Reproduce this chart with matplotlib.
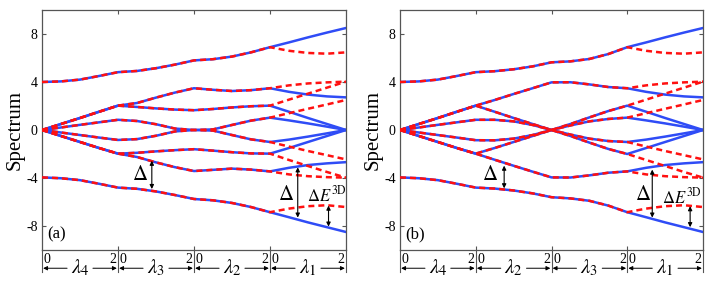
import numpy as np
import matplotlib
matplotlib.use('Agg')
import matplotlib.pyplot as plt
from matplotlib.lines import Line2D

plt.rcParams['font.family'] = ['Liberation Serif', 'DejaVu Serif']
plt.rcParams['mathtext.fontset'] = 'stix'
plt.rcParams['axes.unicode_minus'] = False

# -------- data --------
# sample positions: 4 segments of lambda in [0, 2], every 0.5
x_grid = np.linspace(0, 8, 17)

# panel (a): lambda4, lambda3, lambda2, lambda1  (blue, full model)
a_levels = [
    [4.0, 4.05, 4.2, 4.5, 4.82, 4.92, 5.15, 5.45, 5.8, 5.9, 6.12, 6.47, 6.9, 7.3, 7.72, 8.12, 8.5],
    [0, 0.5, 1.0, 1.52, 2.03, 2.25, 2.7, 3.12, 3.48, 3.35, 3.25, 3.32, 3.48, 3.18, 2.95, 2.8, 2.72],
    [0, 0.5, 1.0, 1.52, 2.03, 1.92, 1.8, 1.7, 1.65, 1.75, 1.88, 1.98, 2.03, 1.52, 1.0, 0.5, 0],
    [0, 0.21, 0.43, 0.64, 0.85, 0.75, 0.48, 0.12, 0, 0.05, 0.42, 0.78, 1.03, 0.8, 0.55, 0.28, 0],
    [0, -0.21, -0.42, -0.63, -0.83, -0.76, -0.48, -0.12, 0, -0.05, -0.42, -0.78, -1.0, -0.8, -0.55, -0.28, 0],
    [0, -0.5, -1.0, -1.5, -1.97, -1.9, -1.78, -1.68, -1.6, -1.72, -1.85, -1.95, -1.97, -1.5, -1.0, -0.5, 0],
    [0, -0.5, -1.0, -1.5, -1.97, -2.25, -2.7, -3.1, -3.42, -3.32, -3.22, -3.3, -3.45, -3.15, -2.92, -2.78, -2.68],
    [-3.95, -4.02, -4.18, -4.48, -4.8, -4.9, -5.12, -5.42, -5.75, -5.86, -6.08, -6.42, -6.85, -7.27, -7.7, -8.1, -8.5],
]

# panel (b): lambda4, lambda2, lambda3, lambda1  (blue, full model)
b_levels = [
    [4.0, 4.05, 4.2, 4.5, 4.82, 4.9, 5.06, 5.3, 5.64, 5.72, 5.92, 6.33, 6.9, 7.3, 7.72, 8.12, 8.5],
    [0, 0.5, 1.0, 1.52, 2.03, 2.5, 3.0, 3.48, 3.97, 3.98, 3.8, 3.58, 3.48, 3.18, 2.95, 2.8, 2.72],
    [0, 0.5, 1.0, 1.52, 2.03, 1.52, 1.0, 0.5, 0, 0.5, 1.05, 1.58, 2.03, 1.52, 1.0, 0.5, 0],
    [0, 0.21, 0.43, 0.64, 0.85, 0.85, 0.72, 0.42, 0, 0.38, 0.72, 0.92, 1.03, 0.8, 0.55, 0.28, 0],
    [0, -0.21, -0.42, -0.63, -0.85, -0.86, -0.72, -0.42, 0, -0.38, -0.72, -0.92, -1.0, -0.8, -0.55, -0.28, 0],
    [0, -0.5, -1.0, -1.5, -1.97, -1.5, -1.0, -0.5, 0, -0.5, -1.05, -1.58, -2.0, -1.5, -1.0, -0.5, 0],
    [0, -0.5, -1.0, -1.5, -1.97, -2.48, -2.98, -3.47, -3.95, -3.96, -3.78, -3.56, -3.45, -3.15, -2.92, -2.78, -2.68],
    [-3.95, -4.02, -4.18, -4.48, -4.8, -4.88, -5.04, -5.28, -5.6, -5.7, -5.9, -6.3, -6.85, -7.27, -7.7, -8.1, -8.5],
]

# red dashed (3D approximation) on the lambda1 segment, x = 6.5, 7, 7.5, 8
red_lambda1 = [
    [6.6, 6.42, 6.36, 6.47],
    [3.72, 3.88, 3.97, 4.03],
    [2.53, 3.03, 3.53, 4.03],
    [1.4, 1.77, 2.13, 2.5],
    [-1.38, -1.75, -2.1, -2.45],
    [-2.5, -3.0, -3.5, -3.97],
    [-3.7, -3.85, -3.93, -3.97],
    [-6.55, -6.35, -6.27, -6.42],
]

a_segments = [r'$\lambda_4$', r'$\lambda_3$', r'$\lambda_2$', r'$\lambda_1$']
b_segments = [r'$\lambda_4$', r'$\lambda_2$', r'$\lambda_3$', r'$\lambda_1$']

BLUE = '#2f4cf6'
RED = '#ff1010'
FRAME = '#555555'


def draw_panel(ax, levels, segments, tag, arrows):
    # blue solid curves, red dashed copies on top
    for lev in levels:
        ax.plot(x_grid, lev, color=BLUE, lw=1.8, solid_capstyle='round', zorder=2)
    for lev, red in zip(levels, red_lambda1):
        ry = list(lev[:13]) + red
        ax.plot(x_grid, ry, color=RED, lw=1.8, ls=(0, (2.4, 1.6)), zorder=3)

    ax.set_xlim(0, 8)
    ax.set_ylim(-10, 10)
    ax.set_yticks([-8, -4, 0, 4, 8])
    ax.set_xticks([2, 4, 6])
    ax.set_xticklabels([])
    ax.tick_params(direction='in', length=3, width=0.8, color=FRAME,
                   top=True, right=True, labelsize=10, pad=3)
    for sp in ax.spines.values():
        sp.set_color(FRAME)
        sp.set_linewidth(0.9)
    ax.set_ylabel('Spectrum', fontsize=15)
    ax.yaxis.set_label_coords(-0.058, 0.5)

    ax.text(0.018, 0.03, tag, transform=ax.transAxes, fontsize=12,
            ha='left', va='bottom')

    # segment labels below the axis
    tr = ax.get_xaxis_transform()
    for b in [0, 2, 4, 6, 8]:
        ax.add_line(Line2D([b, b], [0, -0.092], transform=tr, color=FRAME,
                           lw=0.8, clip_on=False))
    for i, lab in enumerate(segments):
        s = 2 * i
        ax.text(s + 0.04, -0.012, '0', transform=tr, fontsize=10,
                ha='left', va='top')
        ax.text(s + 1.97, -0.012, '2', transform=tr, fontsize=10,
                ha='right', va='top')
        ax.text(s + 1.0, -0.075, lab, transform=tr, fontsize=15,
                ha='center', va='center')
        for tail, head in [(s + 0.66, s + 0.03), (s + 1.34, s + 1.97)]:
            ax.annotate('', xy=(head, -0.076), xytext=(tail, -0.076),
                        xycoords=tr, textcoords=tr,
                        arrowprops=dict(arrowstyle='-|>', color='black', lw=0.7,
                                        mutation_scale=6, shrinkA=0, shrinkB=0),
                        annotation_clip=False)

    # gap arrows
    for (xa, y0, y1, lab, lx, ly, fs) in arrows:
        ax.annotate('', xy=(xa, y1), xytext=(xa, y0),
                    arrowprops=dict(arrowstyle='<|-|>', color='black', lw=0.8,
                                    mutation_scale=6, shrinkA=0, shrinkB=0),
                    zorder=4)
        ax.text(lx, ly, lab, fontsize=fs, ha='center', va='center', zorder=4)


fig = plt.figure(figsize=(7.2, 2.95), dpi=100)
ax_a = fig.add_axes([42 / 720, 45 / 295, 304 / 720, 240 / 295])
ax_b = fig.add_axes([400 / 720, 45 / 295, 303 / 720, 240 / 295])

a_arrows = [
    (2.89, -2.56, -4.92, r'$\Delta$', 2.58, -3.8, 15),
    (6.73, -3.11, -7.3, r'$\Delta$', 6.42, -5.5, 15),
    (7.54, -6.3, -8.05, r'$\Delta E^{\rm 3D}$', 7.5, -5.45, 12),
]
b_arrows = [
    (2.75, -2.97, -4.86, r'$\Delta$', 2.39, -3.8, 15),
    (6.66, -3.3, -7.3, r'$\Delta$', 6.42, -5.5, 15),
    (7.66, -6.35, -8.1, r'$\Delta E^{\rm 3D}$', 7.44, -5.6, 12),
]

draw_panel(ax_a, a_levels, a_segments, '(a)', a_arrows)
draw_panel(ax_b, b_levels, b_segments, '(b)', b_arrows)

fig.savefig('out.png', dpi=100)
